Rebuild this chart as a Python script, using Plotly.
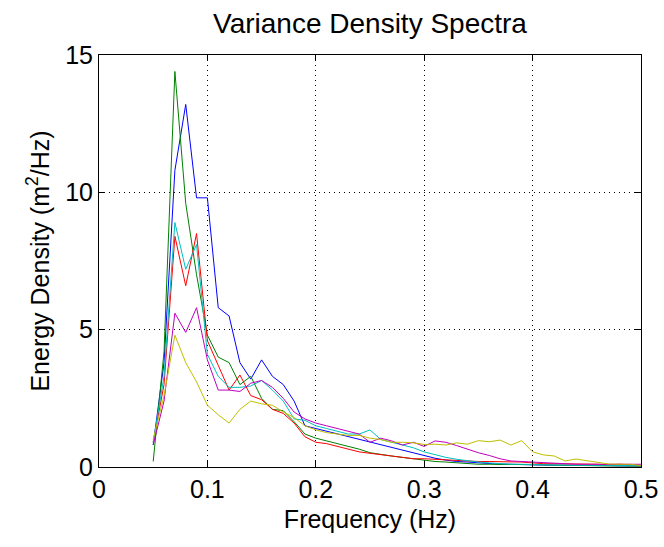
import plotly.graph_objects as go

freq = [round(0.05 + 0.01 * i, 2) for i in range(46)]

blue = [0.8, 3.8, 10.8, 13.2, 9.8, 9.8, 5.8, 5.5, 3.8, 3.2,
        3.9, 3.3, 3.0, 2.4, 1.5, 1.4, 1.3, 1.2, 1.1, 1.0,
        0.9, 0.8, 0.7, 0.6, 0.5, 0.4, 0.32, 0.25, 0.2, 0.18,
        0.15, 0.12, 0.1, 0.1, 0.08, 0.08, 0.07, 0.07, 0.06, 0.06,
        0.05, 0.05, 0.05, 0.04, 0.04, 0.04]
green = [0.2, 4.2, 14.4, 9.6, 7.0, 4.8, 4.0, 3.8, 3.0, 3.3,
         2.5, 2.1, 2.05, 1.65, 1.2, 1.05, 0.95, 0.85, 0.75, 0.65,
         0.52, 0.45, 0.4, 0.35, 0.3, 0.25, 0.2, 0.18, 0.15, 0.12,
         0.1, 0.1, 0.1, 0.1, 0.1, 0.08, 0.08, 0.07, 0.06, 0.05,
         0.05, 0.05, 0.04, 0.04, 0.04, 0.03]
red = [0.9, 3.0, 8.4, 6.6, 8.5, 4.6, 3.7, 2.8, 3.35, 2.6,
       2.45, 2.1, 1.95, 1.6, 1.1, 0.9, 0.85, 0.75, 0.65, 0.55,
       0.5, 0.45, 0.4, 0.35, 0.3, 0.3, 0.28, 0.25, 0.22, 0.22,
       0.2, 0.2, 0.2, 0.18, 0.18, 0.15, 0.12, 0.12, 0.12, 0.12,
       0.1, 0.1, 0.08, 0.1, 0.08, 0.06]
cyan = [0.9, 3.3, 8.9, 7.2, 8.1, 4.1, 3.3, 2.9, 2.9, 2.95,
        3.15, 2.8, 2.4, 1.75, 1.7, 1.5, 1.4, 1.3, 1.2, 1.2,
        1.35, 1.0, 0.9, 0.8, 0.7, 0.55, 0.45, 0.35, 0.28, 0.22,
        0.18, 0.15, 0.12, 0.1, 0.1, 0.08, 0.08, 0.07, 0.07, 0.06,
        0.06, 0.06, 0.05, 0.05, 0.05, 0.05]
magenta = [0.8, 2.4, 5.6, 4.9, 5.8, 3.9, 2.8, 2.8, 2.75, 3.05,
           3.15, 2.9, 2.5, 2.0, 1.75, 1.6, 1.5, 1.4, 1.3, 1.2,
           0.9, 1.05, 0.95, 0.8, 0.9, 0.75, 0.95, 0.9, 0.78, 0.65,
           0.52, 0.42, 0.3, 0.22, 0.2, 0.18, 0.15, 0.12, 0.12, 0.1,
           0.1, 0.1, 0.1, 0.1, 0.1, 0.1]
yellow = [1.0, 2.6, 4.8, 3.8, 3.1, 2.25, 1.9, 1.6, 2.1, 2.4,
          2.3, 2.25, 2.0, 1.8, 1.5, 1.35, 1.25, 1.2, 1.15, 1.15,
          1.05, 1.0, 0.9, 0.9, 0.88, 0.82, 0.83, 0.8, 0.88, 0.83,
          0.96, 0.92, 0.98, 0.8, 0.96, 0.55, 0.44, 0.4, 0.22, 0.29,
          0.23, 0.18, 0.11, 0.1, 0.1, 0.05]

series = [blue, green, red, cyan, magenta, yellow]
colors = ["rgb(0,0,255)", "rgb(0,128,0)", "rgb(255,0,0)",
          "rgb(0,191,191)", "rgb(191,0,191)", "rgb(191,191,0)"]

x_ticks = [0, 0.1, 0.2, 0.3, 0.4, 0.5]
x_ticktext = ["0", "0.1", "0.2", "0.3", "0.4", "0.5"]
y_ticks = [0, 5, 10, 15]
y_ticktext = ["0", "5", "10", "15"]

FONT = "Liberation Sans, Arial, sans-serif"

fig = go.Figure()
for vals, col in zip(series, colors):
    fig.add_trace(go.Scatter(x=freq, y=vals, mode="lines",
                             line=dict(color=col, width=1), showlegend=False))

axis_common = dict(showline=True, linecolor="black", linewidth=1, mirror="ticks",
                   ticks="inside", ticklen=6, tickcolor="black", tickwidth=1,
                   showgrid=True, gridcolor="black", griddash="1px,4px", gridwidth=1.3,
                   zeroline=False, automargin=False,
                   tickfont=dict(family=FONT, size=25, color="black"))

fig.update_layout(
    width=664, height=547,
    margin=dict(l=99, r=23, t=55, b=80),
    paper_bgcolor="white", plot_bgcolor="white",
    title=dict(text="Variance Density Spectra", x=(99 + 641) / 2 / 664, xanchor="center",
               y=1 - 23 / 547, yanchor="middle",
               font=dict(family=FONT, size=28, color="black")),
    xaxis=dict(range=[0, 0.5], tickvals=x_ticks, ticktext=x_ticktext,
               title=dict(text="Frequency (Hz)", font=dict(family=FONT, size=25, color="black"),
                          standoff=8),
               **axis_common),
    yaxis=dict(range=[0, 15], tickvals=y_ticks, ticktext=y_ticktext,
               title=dict(text="Energy Density (m<sup>2</sup>/Hz)",
                          font=dict(family=FONT, size=25, color="black"), standoff=8),
               **axis_common),
)

fig.write_html("out.html")
